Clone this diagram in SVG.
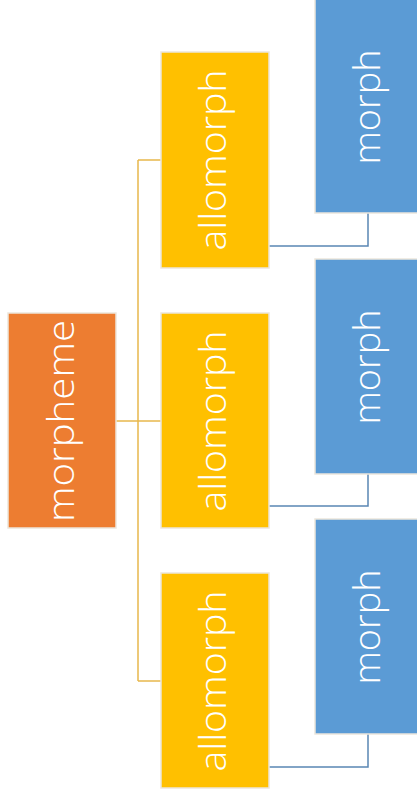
<svg xmlns="http://www.w3.org/2000/svg" width="417" height="798" viewBox="0 0 417 798">
<style>
.box{stroke:#ece6dc;stroke-width:1.5}
.root{fill:#ED7D31}
.mid{fill:#FFC000}
.leaf{fill:#5B9BD5}
.lbl{fill:#ffffff;font-family:"Open Sans","Liberation Sans",sans-serif;font-weight:300;font-size:37px;text-anchor:middle}
.cy{fill:none;stroke:#E8B84C;stroke-width:1.5}
.cb{fill:none;stroke:#5A86B4;stroke-width:1.5}
</style>
<rect width="417" height="798" fill="#ffffff"/>
<g id="connectors">
<path class="cy" d="M116 421H161M138 160V681M138 160H161M138 681H161"/>
<path class="cb" d="M269 246H368V213"/>
<path class="cb" d="M269 506H368V474"/>
<path class="cb" d="M269 767H368V734"/>
</g>
<g id="morpheme">
<rect class="box root" x="8" y="313" width="108" height="215"/>
<text class="lbl" transform="translate(74 421) rotate(-90)" textLength="202" lengthAdjust="spacingAndGlyphs">morpheme</text>
</g>
<g id="allomorph1">
<rect class="box mid" x="161" y="52" width="108" height="216"/>
<text class="lbl" transform="translate(226 160) rotate(-90)" textLength="181" lengthAdjust="spacingAndGlyphs">allomorph</text>
</g>
<g id="allomorph2">
<rect class="box mid" x="161" y="313" width="108" height="215"/>
<text class="lbl" transform="translate(226 421) rotate(-90)" textLength="181" lengthAdjust="spacingAndGlyphs">allomorph</text>
</g>
<g id="allomorph3">
<rect class="box mid" x="161" y="573" width="108" height="215"/>
<text class="lbl" transform="translate(226 681) rotate(-90)" textLength="181" lengthAdjust="spacingAndGlyphs">allomorph</text>
</g>
<g id="morph1">
<rect class="box leaf" x="315" y="-2" width="108" height="215"/>
<text class="lbl" transform="translate(380 107) rotate(-90)" textLength="115" lengthAdjust="spacingAndGlyphs">morph</text>
</g>
<g id="morph2">
<rect class="box leaf" x="315" y="259" width="108" height="215"/>
<text class="lbl" transform="translate(380 367) rotate(-90)" textLength="115" lengthAdjust="spacingAndGlyphs">morph</text>
</g>
<g id="morph3">
<rect class="box leaf" x="315" y="519" width="108" height="215"/>
<text class="lbl" transform="translate(380 627) rotate(-90)" textLength="115" lengthAdjust="spacingAndGlyphs">morph</text>
</g>
</svg>
